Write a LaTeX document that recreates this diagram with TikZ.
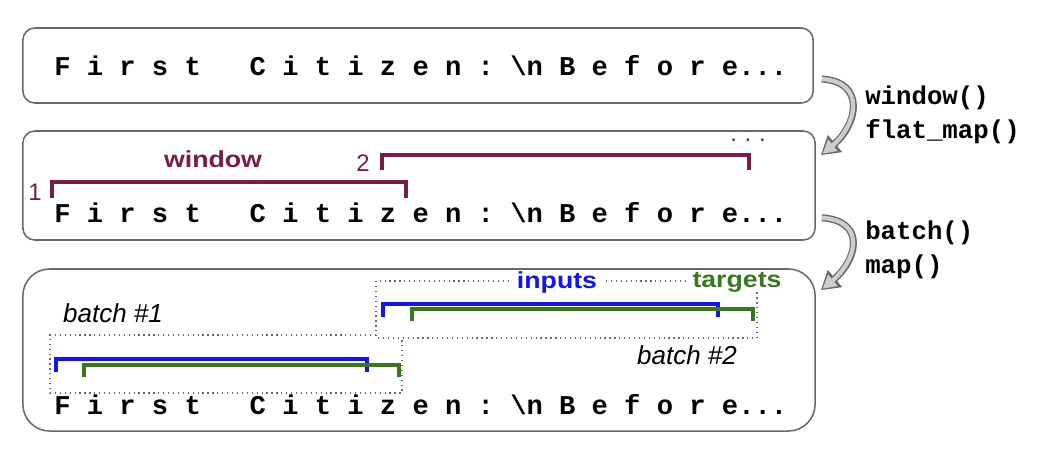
\documentclass[tikz,border=0pt]{standalone}
\usepackage{fontspec}
\setmainfont{Liberation Sans}
\setmonofont{Liberation Mono}
\usetikzlibrary{arrows.meta, calc}
\definecolor{winred}{RGB}{122, 28, 72}
\definecolor{inblue}{RGB}{20, 20, 240}
\definecolor{tgtgreen}{RGB}{58, 118, 32}
\definecolor{edgegray}{RGB}{105, 105, 105}
\definecolor{flowgray}{RGB}{205, 205, 205}
\newcommand{\citizen}{F i r s t~~~C i t i z e n : \textbackslash n B e f o r e...}
\newcommand{\widelabel}[1]{\scalebox{1.15}[1]{#1}}

\begin{document}
\begin{tikzpicture}[x=0.025cm, y=-0.025cm,
  panel/.style={draw=edgegray, line width=1.1pt, rounded corners=8.5pt, inner sep=0pt},
  chars/.style={anchor=base west, inner sep=0pt, font=\fontsize{19.3}{23}\selectfont\ttfamily\bfseries},
  opname/.style={anchor=west, inner sep=0pt, font=\fontsize{18.3}{22}\selectfont\ttfamily\bfseries},
  tag/.style={inner xsep=4pt, inner ysep=0pt, font=\fontsize{16.5}{20}\selectfont\bfseries},
  num/.style={inner sep=0pt, text=winred, font=\fontsize{17}{20}\selectfont},
  batchname/.style={inner sep=0pt, font=\fontsize{18.5}{22}\selectfont\itshape},
  wbrack/.style={draw=winred, line width=2.4pt},
  inbrack/.style={draw=inblue, line width=2.4pt},
  tgtbrack/.style={draw=tgtgreen, line width=2.4pt},
  batchbox/.style={draw=edgegray, line width=0.9pt, dash pattern=on 0.9pt off 2.6pt},
  flowout/.style={draw=edgegray, line width=5pt, -{Triangle[length=13pt, width=15pt]}},
  flowin/.style={draw=flowgray, line width=3pt, shorten >=1.6pt, -{Triangle[length=9.5pt, width=10pt]}}
]
  \useasboundingbox (0,0) rectangle (1046,448);

  % raw text
  \node[panel, minimum width=19.75cm, minimum height=1.875cm] (box1) at (418,65.5) {};
  \node[chars] (text1) at (54,75) {\citizen};

  % windows
  \node[panel, minimum width=19.8cm, minimum height=2.725cm] (box2) at (419,185.5) {};
  \node[chars] (text2) at (54,222) {\citizen};
  \draw[wbrack] (52,198) |- (406,182) -- (406,198);
  \draw[wbrack] (382,170) |- (749,155) -- (749,170);
  \node[num] (win1) at (35,192) {1};
  \node[num] (win2) at (363,163) {2};
  \node[tag, text=winred] (winname) at (213,159) {\widelabel{window}};
  \node[num] (winmore) at (748,140) {.\hspace{5.5pt}.\hspace{5.5pt}.};

  % batches
  \node[panel, rounded corners=19pt, minimum width=19.8cm, minimum height=4.05cm] (box3) at (419,350) {};
  \node[chars] (text3) at (54,414) {\citizen};
  \draw[batchbox] (376,281) rectangle (757,338);
  \draw[batchbox] (376,335) -- (50,335) -- (50,393) -- (402,393) -- (402,338);
  \node[tag, fill=white, text=inblue] (inname) at (557,282) {\widelabel{inputs}};
  \node[tag, fill=white, text=tgtgreen] (tgtname) at (737,282) {\widelabel{targets}};
  \draw[inbrack] (383,317) |- (718,304) -- (718,317);
  \draw[tgtbrack] (412,321) |- (753,309) -- (753,321);
  \draw[inbrack] (56,372) |- (367,359) -- (367,372);
  \draw[tgtbrack] (84,377) |- (399,365) -- (399,377);
  \node[batchname] (batch1) at (113,313) {batch \#1};
  \node[batchname] (batch2) at (687,355) {batch \#2};

  % operations
  \draw[flowout] ($(box1.east)+(8,13.5)$) .. controls +(45,3) and +(36,-30) .. ($(box2.north east)+(5,25)$);
  \draw[flowin] ($(box1.east)+(8,13.5)$) .. controls +(45,3) and +(36,-30) .. ($(box2.north east)+(5,25)$);
  \draw[flowout] ($(box2.south east)+(6,-23)$) .. controls +(45,3) and +(36,-30) .. ($(box3.north east)+(5,22)$);
  \draw[flowin] ($(box2.south east)+(6,-23)$) .. controls +(45,3) and +(36,-30) .. ($(box3.north east)+(5,22)$);
  \node[opname] (op1) at (865,98) {window()};
  \node[opname] (op2) at (865,132) {flat\_map()};
  \node[opname] (op3) at (865,233) {batch()};
  \node[opname] (op4) at (865,267) {map()};
\end{tikzpicture}
\end{document}
